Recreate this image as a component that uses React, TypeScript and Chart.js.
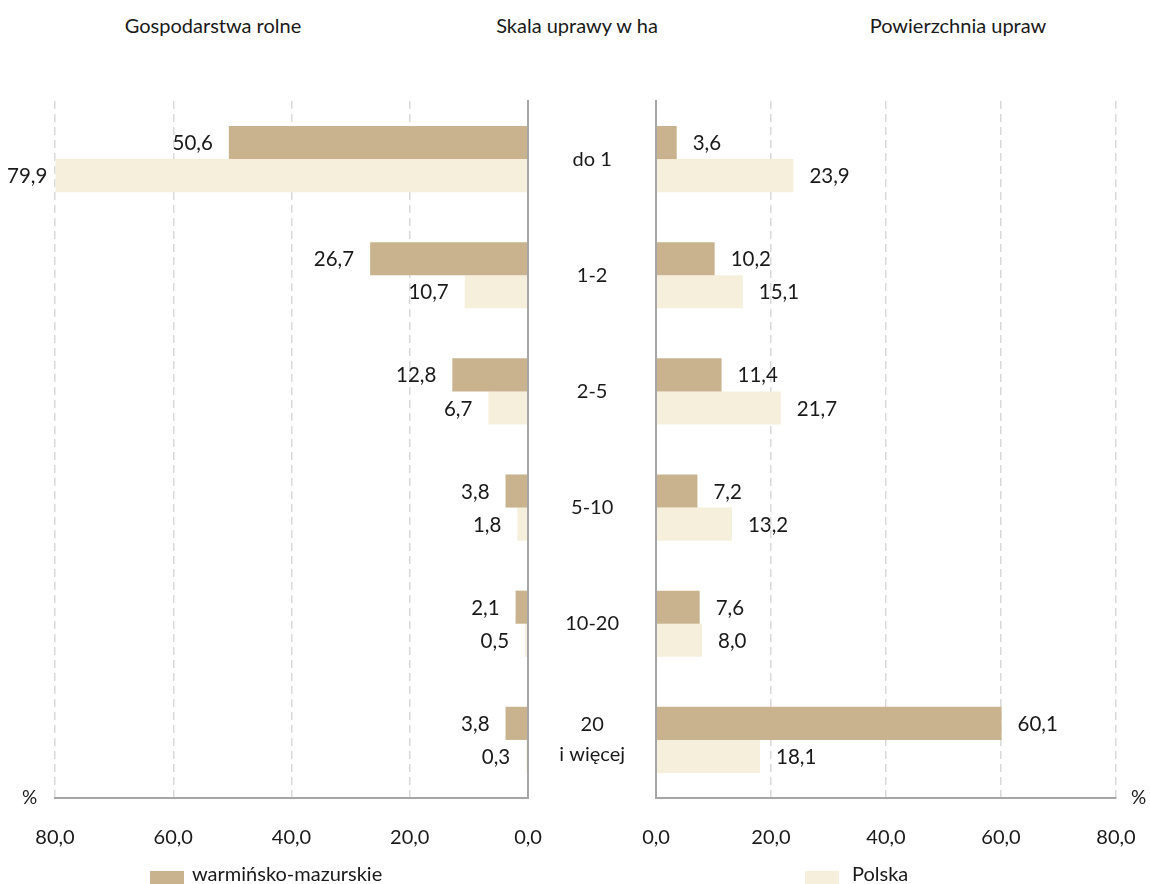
import React, { useEffect, useRef } from "react";
import { Chart, registerables } from "chart.js";

Chart.register(...registerables);

const categories: (string | string[])[] = ["do 1", "1-2", "2-5", "5-10", "10-20", ["20", "i więcej"]];
const seriesNames = ["warmińsko-mazurskie", "Polska"];
const farmsWM = [50.6, 26.7, 12.8, 3.8, 2.1, 3.8];
const farmsPL = [79.9, 10.7, 6.7, 1.8, 0.5, 0.3];
const areaWM = [3.6, 10.2, 11.4, 7.2, 7.6, 60.1];
const areaPL = [23.9, 15.1, 21.7, 13.2, 8.0, 18.1];
const axisMin = 0;
const axisMax = 80;
const axisStep = 20;
const panelTitles = ["Gospodarstwa rolne", "Skala uprawy w ha", "Powierzchnia upraw"];
const unitLabel = "%";

const FONT = "Lato, 'Open Sans', sans-serif";
const COL_WM = "#C9B38E";
const COL_PL = "#F5EFDC";
const TEXT = "#1a1a1a";
const GRID = "#d9d9d9";
const AXIS = "#a6a6a6";

const fmt = (v: number) => Number(v).toFixed(1).replace(".", ",");

const valueLabels = {
  id: "valueLabels",
  afterDatasetsDraw(chart: any, _args: any, opts: any) {
    const ctx = chart.ctx;
    ctx.save();
    ctx.font = `20.5px ${FONT}`;
    ctx.fillStyle = TEXT;
    ctx.textBaseline = "middle";
    chart.data.datasets.forEach((ds: any, di: number) => {
      const meta = chart.getDatasetMeta(di);
      meta.data.forEach((el: any, i: number) => {
        const txt = fmt(ds.data[i]);
        const w = ctx.measureText(txt).width;
        if (opts.side === "left") {
          ctx.textAlign = "right";
          let x = el.x - 16;
          if (x - w < 4) x = w + 7;
          ctx.fillText(txt, x, el.y + 1);
        } else {
          ctx.textAlign = "left";
          ctx.fillText(txt, el.x + 16, el.y + 1);
        }
      });
    });
    ctx.restore();
  },
};

function makeConfig(side: "left" | "right", wm: number[], pl: number[]): any {
  const isLeft = side === "left";
  return {
    type: "bar",
    data: {
      labels: categories,
      datasets: [
        { label: seriesNames[0], data: wm, backgroundColor: COL_WM, borderWidth: 0 },
        { label: seriesNames[1], data: pl, backgroundColor: COL_PL, borderWidth: 0 },
      ],
    },
    plugins: [valueLabels],
    options: {
      responsive: false,
      animation: false,
      indexAxis: "y",
      datasets: { bar: { categoryPercentage: 0.57, barPercentage: 1 } },
      layout: {
        padding: isLeft
          ? { left: 55, right: 0, top: 101, bottom: 26 }
          : { left: 0, right: 34, top: 101, bottom: 26 },
      },
      plugins: {
        legend: { display: false },
        tooltip: { enabled: false },
        valueLabels: { side },
      },
      scales: {
        x: {
          type: "linear",
          reverse: isLeft,
          min: axisMin,
          max: axisMax,
          afterFit: (s: any) => {
            s.height = 60;
            s.paddingLeft = 0;
            s.paddingRight = 0;
          },
          ticks: {
            stepSize: axisStep,
            padding: 28,
            color: TEXT,
            font: { family: FONT, size: 20 },
            callback: (v: any) => fmt(v),
            maxRotation: 0,
          },
          grid: { color: GRID, lineWidth: 1.5, drawTicks: false },
          border: { display: true, color: AXIS, width: 2, dash: [8, 5] },
        },
        y: {
          type: "category",
          position: isLeft ? "right" : "left",
          afterFit: (s: any) => {
            s.width = isLeft ? 32 : 128;
          },
          ticks: isLeft
            ? { display: false }
            : {
                display: true,
                crossAlign: "center",
                padding: 31,
                color: TEXT,
                font: { family: FONT, size: 20, lineHeight: 1.5 },
              },
          grid: { display: false, drawTicks: false },
          border: { display: true, color: AXIS, width: 2, z: 1 },
        },
      },
    },
  };
}

function Panel(props: { side: "left" | "right"; wm: number[]; pl: number[]; left: number; width: number }) {
  const ref = useRef<HTMLCanvasElement | null>(null);
  useEffect(() => {
    if (!ref.current) return;
    const chart = new Chart(ref.current, makeConfig(props.side, props.wm, props.pl));
    return () => chart.destroy();
  }, []);
  return (
    <canvas
      ref={ref}
      width={props.width}
      height={884}
      style={{ position: "absolute", left: props.left, top: 0, width: props.width, height: 884 }}
    />
  );
}

const textStyle: React.CSSProperties = {
  position: "absolute",
  fontFamily: FONT,
  color: TEXT,
  whiteSpace: "nowrap",
};

export default function App() {
  const titleCenters = [213, 577, 958];
  return (
    <div
      style={{
        position: "absolute",
        left: 0,
        top: 0,
        width: 1150,
        height: 884,
        overflow: "hidden",
        background: "#ffffff",
      }}
    >
      {panelTitles.map((t, i) => (
        <div
          key={t}
          style={{
            ...textStyle,
            left: titleCenters[i],
            top: 14,
            fontSize: 20,
            lineHeight: "22px",
            transform: "translateX(-50%)",
          }}
        >
          {t}
        </div>
      ))}
      <Panel side="left" wm={farmsWM} pl={farmsPL} left={0} width={560} />
      <Panel side="right" wm={areaWM} pl={areaPL} left={528} width={622} />
      <div style={{ ...textStyle, left: 22, top: 785, fontSize: 19, lineHeight: "24px" }}>{unitLabel}</div>
      <div style={{ ...textStyle, left: 1131, top: 785, fontSize: 19, lineHeight: "24px" }}>{unitLabel}</div>
      <div style={{ position: "absolute", left: 150, top: 871, width: 34, height: 16, background: COL_WM }} />
      <div style={{ ...textStyle, left: 192, top: 861, fontSize: 20, lineHeight: "24px" }}>{seriesNames[0]}</div>
      <div style={{ position: "absolute", left: 805, top: 871, width: 34, height: 16, background: COL_PL }} />
      <div style={{ ...textStyle, left: 852, top: 861, fontSize: 20, lineHeight: "24px" }}>{seriesNames[1]}</div>
    </div>
  );
}
